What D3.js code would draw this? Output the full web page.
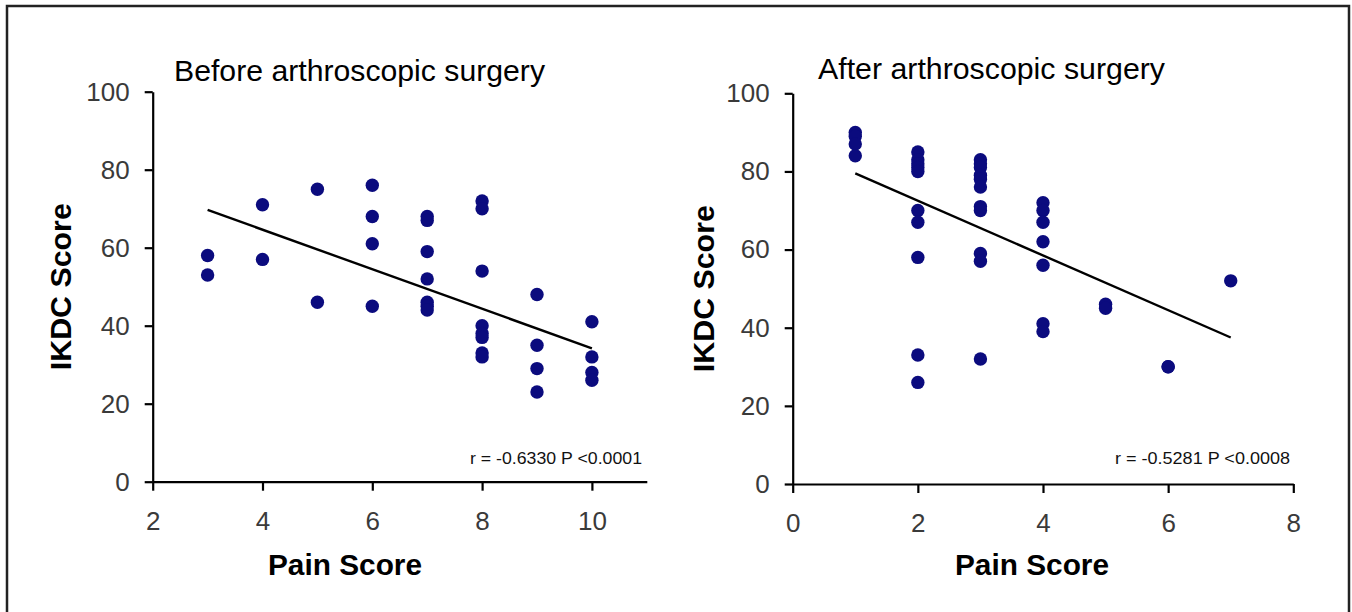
<!DOCTYPE html>
<meta charset="utf-8">
<style>
    body { margin: 0; background: #fff; }
    svg { display: block; font-family: "Liberation Sans", Arial, sans-serif; }
</style>
<svg width="1352" height="612"></svg>
<script src="https://d3js.org/d3.v7.min.js"></script>
<script>

    // Before surgery: pain score vs IKDC score
    var beforePain = [3, 3, 4, 4, 5, 5, 6, 6, 6, 6,
        7, 7, 7, 7, 7, 7, 7,
        8, 8, 8, 8, 8, 8, 8, 8,
        9, 9, 9, 9,
        10, 10, 10, 10];
    var beforeIkdc = [58, 53, 71, 57, 75, 46, 76, 68, 61, 45,
        68, 67, 59, 52, 46, 45, 44,
        72, 70, 54, 40, 38, 37, 33, 32,
        48, 35, 29, 23,
        41, 32, 28, 26];

    // After surgery
    var afterPain = [1, 1, 1, 1,
        2, 2, 2, 2, 2, 2, 2, 2, 2, 2,
        3, 3, 3, 3, 3, 3, 3, 3, 3, 3, 3,
        4, 4, 4, 4, 4, 4, 4,
        5, 5, 6, 6, 7];
    var afterIkdc = [90, 89, 87, 84,
        85, 83, 82, 81, 80, 70, 67, 58, 33, 26,
        83, 82, 81, 79, 78, 76, 71, 70, 59, 57, 32,
        72, 70, 67, 62, 56, 41, 39,
        46, 45, 30, 30, 52];

    // regression lines [intercept, slope, from, to]
    var beforeFit = [84.9, -5.07, 3, 10];
    var afterFit = [86.5, -7.0, 1, 7];

    var xTicksBefore = [2, 4, 6, 8, 10];
    var xTicksAfter = [0, 2, 4, 6, 8];
    var yTicks = [0, 20, 40, 60, 80, 100];

    var svg = d3.select("svg");

    // frame round the figure (no bottom edge in the picture)
    svg.append("path")
        .attr("d", "M7,612V6H1349V612")
        .attr("fill", "none")
        .attr("stroke", "#222")
        .attr("stroke-width", 2.5);

    var panels = [
        {
            px: beforePain, py: beforeIkdc, fit: beforeFit,
            xDomain: [2, 11], xTicks: xTicksBefore,
            x0: 152.7, x1: 646.8, yBottom: 481.7, yTop: 91.7,
            title: "Before arthroscopic surgery", titleX: 174, titleW: 371, titleY: 81,
            yLabelX: 60, xLabelX: 345,
            note: "r =  -0.6330 P <0.0001", noteX: 470, noteW: 172, noteY: 464
        },
        {
            px: afterPain, py: afterIkdc, fit: afterFit,
            xDomain: [0, 8], xTicks: xTicksAfter,
            x0: 792.7, x1: 1293.3, yBottom: 484, yTop: 93.3,
            title: "After arthroscopic surgery", titleX: 818, titleW: 347, titleY: 79,
            yLabelX: 703, xLabelX: 1032,
            note: "r = -0.5281 P <0.0008", noteX: 1115, noteW: 175, noteY: 464
        }
    ];

    panels.forEach(function (p) {
        var x = d3.scaleLinear().domain(p.xDomain).range([p.x0, p.x1]);
        var y = d3.scaleLinear().domain([0, 100]).range([p.yBottom, p.yTop]);

        var g = svg.append("g");

        // axes
        var xAxis = g.append("g")
            .attr("transform", "translate(0," + p.yBottom + ")")
            .call(d3.axisBottom(x).tickValues(p.xTicks).tickSize(9).tickSizeOuter(0).tickPadding(21));
        var yAxis = g.append("g")
            .attr("transform", "translate(" + p.x0 + ",0)")
            .call(d3.axisLeft(y).tickValues(yTicks).tickSize(8).tickSizeOuter(0).tickPadding(15));

        [xAxis, yAxis].forEach(function (a) {
            a.select(".domain").attr("stroke", "#000").attr("stroke-width", 2.2);
            a.selectAll(".tick line").attr("stroke", "#000").attr("stroke-width", 2.2);
            a.selectAll(".tick text")
                .attr("fill", "#3a3a3a")
                .style("font-size", "26px")
                .style("font-family", "'Liberation Sans', Arial, sans-serif");
        });

        // points
        g.selectAll("circle")
            .data(d3.range(p.px.length))
            .enter().append("circle")
            .attr("cx", function (i) { return x(p.px[i]); })
            .attr("cy", function (i) { return y(p.py[i]); })
            .attr("r", 6.7)
            .attr("fill", "#0b0b7e");

        // fitted line
        var f = p.fit;
        g.append("line")
            .attr("x1", x(f[2])).attr("y1", y(f[0] + f[1] * f[2]))
            .attr("x2", x(f[3])).attr("y2", y(f[0] + f[1] * f[3]))
            .attr("stroke", "#000")
            .attr("stroke-width", 2.4);

        // texts
        g.append("text")
            .attr("x", p.titleX).attr("y", p.titleY)
            .attr("textLength", p.titleW).attr("lengthAdjust", "spacingAndGlyphs")
            .style("font-size", "29px")
            .attr("fill", "#000")
            .text(p.title);

        g.append("text")
            .attr("transform", "translate(" + (p.yLabelX + 11) + "," + ((p.yBottom + p.yTop) / 2) + ") rotate(-90)")
            .attr("text-anchor", "middle")
            .attr("textLength", 167).attr("lengthAdjust", "spacingAndGlyphs")
            .style("font-size", "30px")
            .style("font-weight", "bold")
            .text("IKDC Score");

        g.append("text")
            .attr("x", p.xLabelX).attr("y", 575)
            .attr("text-anchor", "middle")
            .attr("textLength", 154).attr("lengthAdjust", "spacingAndGlyphs")
            .style("font-size", "30px")
            .style("font-weight", "bold")
            .text("Pain Score");

        g.append("text")
            .attr("x", p.noteX).attr("y", p.noteY)
            .attr("textLength", p.noteW).attr("lengthAdjust", "spacingAndGlyphs")
            .style("font-size", "16px")
            .attr("fill", "#111")
            .text(p.note);
    });

</script>
